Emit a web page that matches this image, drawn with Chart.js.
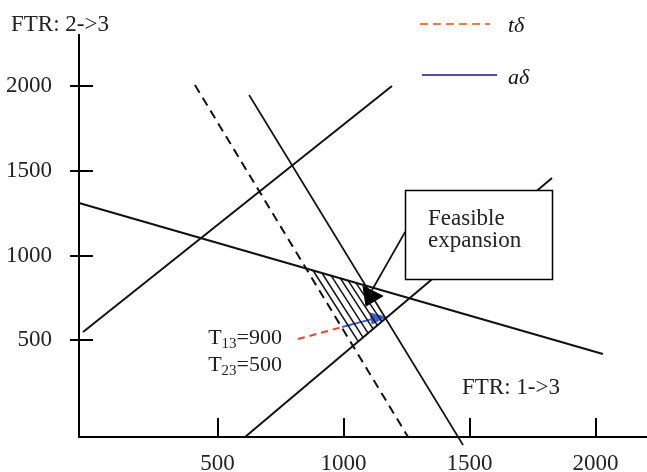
<!DOCTYPE html>
<html>
<head>
<meta charset="utf-8">
<script src="https://cdn.jsdelivr.net/npm/chart.js@4.4.0/dist/chart.umd.min.js"></script>
<style>
    body { margin: 0; background: #fff; }
</style>
</head>
<body>
<canvas id="myChart" width="647" height="472"></canvas>
<script>
//-----------------ticks de los ejes-------------------------
const xTicks = [500, 1000, 1500, 2000]
const yTicks = [500, 1000, 1500, 2000]

//-----------------rectas del diagrama (x = FTR 1->3, y = FTR 2->3)-------------------------
const rectaA = [{ x: -34, y: 549 }, { x: 1192, y: 2001 }]
const rectaB = [{ x: -50, y: 1310 }, { x: 2029, y: 419 }]
const rectaC = [{ x: 609, y: -71 }, { x: 1827, y: 1458 }]
const rectaD = [{ x: 410, y: 2007 }, { x: 1256, y: -71 }]
const rectaE = [{ x: 625, y: 1948 }, { x: 1474, y: -118 }]

//rayado de la region factible
const rayado = [
    [{ x: 879, y: 912 }, { x: 1058, y: 493 }],
    [{ x: 914, y: 897 }, { x: 1077, y: 517 }],
    [{ x: 950, y: 883 }, { x: 1097, y: 542 }],
    [{ x: 986, y: 868 }, { x: 1117, y: 567 }],
    [{ x: 1017, y: 855 }, { x: 1134, y: 588 }],
    [{ x: 1049, y: 839 }, { x: 1152, y: 610 }]
]

//flecha del cuadro hacia la region
const flecha = [{ x: 1244, y: 1139 }, { x: 1113, y: 797 }]
const puntaFlecha = [{ x: 1077, y: 820 }, { x: 1156, y: 761 }, { x: 1089, y: 702 }, { x: 1077, y: 820 }]

//t delta (rojo) y a delta (azul)
const tDelta = [{ x: 819, y: 507 }, { x: 994, y: 578 }]
const aDelta = [{ x: 994, y: 578 }, { x: 1113, y: 625 }]
const puntaA = [{ x: 1105, y: 661 }, { x: 1168, y: 637 }, { x: 1113, y: 596 }, { x: 1105, y: 661 }]
//----------------//----------------//----------------//----------------

const fuente = '"Liberation Serif", "Times New Roman", serif'

//se crea un dataset de linea sin puntos
function linea(data, color, ancho, dash) {
    return {
        data: data,
        showLine: true,
        borderColor: color,
        borderWidth: ancho,
        borderDash: dash || [],
        pointRadius: 0,
        fill: false,
        clip: false
    }
}

function triangulo(data, color) {
    return {
        data: data,
        showLine: true,
        borderColor: color,
        borderWidth: 1,
        backgroundColor: color,
        pointRadius: 0,
        fill: 'shape',
        clip: false
    }
}

//texto con subindice alineado a la derecha
function subindice(ctx, letra, sub, resto, derecha, base) {
    ctx.font = '22px ' + fuente
    const w1 = ctx.measureText(letra).width
    const w3 = ctx.measureText(resto).width
    ctx.font = '15px ' + fuente
    const w2 = ctx.measureText(sub).width
    let x0 = derecha - w1 - w2 - w3
    ctx.font = '22px ' + fuente
    ctx.fillText(letra, x0, base)
    ctx.font = '15px ' + fuente
    ctx.fillText(sub, x0 + w1, base + 4)
    ctx.font = '22px ' + fuente
    ctx.fillText(resto, x0 + w1 + w2, base)
}

//plugin para las marcas de los ejes, el cuadro, los textos y la leyenda
const decorado = {
    id: 'decorado',
    afterDatasetsDraw(chart) {
        const ctx = chart.ctx
        const sx = chart.scales.x
        const sy = chart.scales.y
        const area = chart.chartArea
        ctx.save()
        ctx.strokeStyle = '#000'
        ctx.lineWidth = 2
        xTicks.forEach(v => {
            const px = Math.round(sx.getPixelForValue(v))
            ctx.beginPath()
            ctx.moveTo(px, area.bottom - 19)
            ctx.lineTo(px, area.bottom)
            ctx.stroke()
        })
        yTicks.forEach(v => {
            const py = Math.round(sy.getPixelForValue(v))
            ctx.beginPath()
            ctx.moveTo(area.left - 9, py)
            ctx.lineTo(area.left + 14, py)
            ctx.stroke()
        })

        //cuadro "Feasible expansion"
        ctx.fillStyle = '#fff'
        ctx.fillRect(405, 190, 147, 89)
        ctx.lineWidth = 1.5
        ctx.strokeRect(405.5, 190.5, 147, 89)

        ctx.fillStyle = '#222'
        ctx.textAlign = 'left'
        ctx.textBaseline = 'alphabetic'
        ctx.font = '23px ' + fuente
        ctx.fillText('Feasible', 428, 225)
        ctx.fillText('expansion', 428, 247)
        ctx.fillText('FTR: 2->3', 11, 31)
        ctx.fillText('FTR: 1->3', 462, 394)

        subindice(ctx, 'T', '13', '=900', 282, 344)
        subindice(ctx, 'T', '23', '=500', 282, 371)

        //leyenda
        ctx.lineWidth = 2
        ctx.strokeStyle = '#f07a45'
        ctx.setLineDash([8, 5])
        ctx.beginPath()
        ctx.moveTo(420, 24)
        ctx.lineTo(490, 24)
        ctx.stroke()
        ctx.setLineDash([])
        ctx.strokeStyle = '#4b4fb0'
        ctx.beginPath()
        ctx.moveTo(422, 75)
        ctx.lineTo(497, 75)
        ctx.stroke()
        ctx.fillStyle = '#111'
        ctx.font = 'italic 22px ' + fuente
        ctx.fillText('tδ', 508, 32)
        ctx.fillText('aδ', 508, 84)
        ctx.restore()
    }
}

const canvas = document.querySelector('#myChart')
const ctx = canvas.getContext('2d')

let chart = new Chart(ctx, {
    type: 'scatter',
    data: {
        datasets: [
            linea(rectaA, '#111', 2),
            linea(rectaB, '#111', 2),
            linea(rectaC, '#111', 2),
            linea(rectaD, '#111', 2, [9, 6]),
            linea(rectaE, '#111', 1.7),
            ...rayado.map(r => linea(r, '#111', 1.5)),
            linea(flecha, '#111', 1.7),
            triangulo(puntaFlecha, '#000'),
            linea(tDelta, '#e8452a', 2, [7, 5]),
            linea(aDelta, '#3b5fd0', 2),
            triangulo(puntaA, '#3b5fd0')
        ]
    },
    options: {
        responsive: false,
        animation: false,
        layout: { padding: { top: 35, right: 0, left: 0, bottom: 0 } },
        plugins: {
            legend: { display: false },
            tooltip: { enabled: false },
            title: { display: false }
        },
        scales: {
            x: {
                type: 'linear',
                min: -50,
                max: 2204,
                grid: { display: false, drawTicks: false },
                border: { display: true, color: '#000', width: 2 },
                ticks: {
                    color: '#222',
                    padding: 13,
                    autoSkip: false,
                    maxRotation: 0,
                    font: { family: fuente, size: 23 },
                    callback: v => String(v)
                },
                afterBuildTicks: s => { s.ticks = xTicks.map(v => ({ value: v })) },
                afterFit: s => { s.height = 35; s.paddingLeft = 0; s.paddingRight = 0 }
            },
            y: {
                type: 'linear',
                min: -71,
                max: 2302,
                grid: { display: false, drawTicks: false },
                border: { display: true, color: '#000', width: 2 },
                ticks: {
                    color: '#222',
                    padding: 27,
                    autoSkip: false,
                    font: { family: fuente, size: 23 },
                    callback: v => String(v)
                },
                afterBuildTicks: s => { s.ticks = yTicks.map(v => ({ value: v })) },
                afterFit: s => { s.width = 79; s.paddingTop = 0; s.paddingBottom = 0 }
            }
        }
    },
    plugins: [decorado]
})
</script>
</body>
</html>
